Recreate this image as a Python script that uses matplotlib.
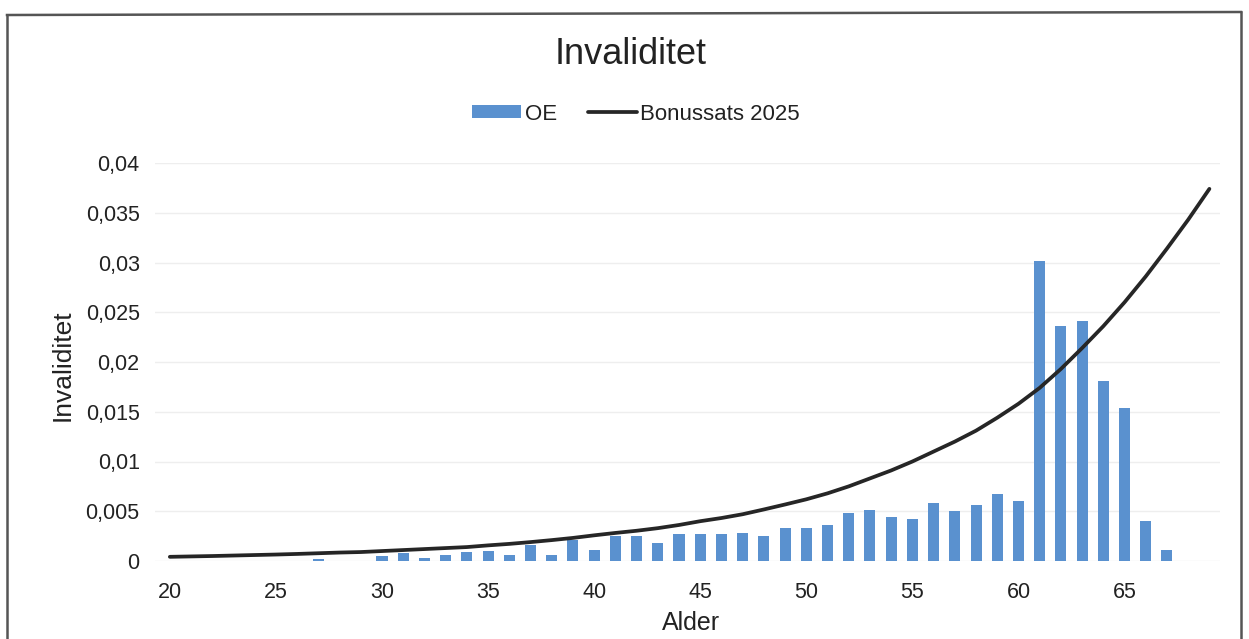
import matplotlib
matplotlib.use('Agg')
import matplotlib.pyplot as plt
from matplotlib.lines import Line2D

# ---- data ----
ages = list(range(20, 70))
bonus_values = [
    0.00042, 0.00046, 0.00050, 0.00055, 0.00060, 0.00065, 0.00071, 0.00078, 0.00085, 0.00090,
    0.00100, 0.00110, 0.00120, 0.00130, 0.00140, 0.00157, 0.00172, 0.00190, 0.00210, 0.00232,
    0.00258, 0.00282, 0.00304, 0.00330, 0.00362, 0.00400, 0.00432, 0.00470, 0.00518, 0.00568,
    0.00620, 0.00680, 0.00750, 0.00830, 0.00910, 0.01000, 0.01100, 0.01200, 0.01310, 0.01440,
    0.01580, 0.01740, 0.01930, 0.02140, 0.02360, 0.02600, 0.02860, 0.03140, 0.03430, 0.03740,
]

oe_ages = list(range(27, 68))
oe_values = [
    0.0002, 0.0, 0.0, 0.0005, 0.0008, 0.0003, 0.0006, 0.0009, 0.0010, 0.0006,
    0.0016, 0.0006, 0.0021, 0.0011, 0.0025, 0.0025, 0.0018, 0.0027, 0.0027, 0.0027,
    0.0028, 0.0025, 0.0033, 0.0033, 0.0036, 0.0048, 0.0051, 0.0044, 0.0042, 0.0058,
    0.0050, 0.0056, 0.0067, 0.0060, 0.0302, 0.0236, 0.0241, 0.0181, 0.0154, 0.0040,
    0.0011,
]

x_ticks = [20, 25, 30, 35, 40, 45, 50, 55, 60, 65]
y_ticks = [0, 0.005, 0.01, 0.015, 0.02, 0.025, 0.03, 0.035, 0.04]
y_tick_labels = ['0', '0,005', '0,01', '0,015', '0,02', '0,025', '0,03', '0,035', '0,04']

title_text = 'Invaliditet'
x_label = 'Alder'
y_label = 'Invaliditet'
bar_label = 'OE'
line_label = 'Bonussats 2025'

# ---- figure ----
plt.rcParams['font.family'] = ['Liberation Sans', 'DejaVu Sans']
W, H = 1249, 639
fig = plt.figure(figsize=(W / 100, H / 100), dpi=100)
fig.patch.set_facecolor('white')

ax = fig.add_axes([155 / W, 1 - 561 / H, (1220 - 155) / W, (561 - 163) / H])
ax.set_facecolor('white')

bars = ax.bar(oe_ages, oe_values, width=0.52, color='#5a91cf', label=bar_label, zorder=2)
line, = ax.plot(ages, bonus_values, color='#262626', lw=2.7, label=line_label, zorder=3,
                solid_capstyle='round')

ax.set_xlim(19.3, 69.5)
ax.set_ylim(0, 0.04)
ax.set_xticks(x_ticks)
ax.set_xticklabels([str(t) for t in x_ticks])
ax.set_yticks(y_ticks)
ax.set_yticklabels(y_tick_labels)
ax.tick_params(axis='both', length=0, labelsize=15.5, colors='#222222')
ax.tick_params(axis='x', pad=15)
ax.tick_params(axis='y', pad=11)
ax.grid(axis='y', color='#eeeeee', lw=1.0, zorder=0)
for s in ax.spines.values():
    s.set_visible(False)

fig.text(631 / W, 1 - 55 / H, title_text, fontsize=26, ha='center', va='center', color='#222222')
fig.text(63 / W, 1 - 365 / H, y_label, fontsize=19, rotation=90, ha='center', va='center',
         color='#222222')
fig.text(691 / W, 1 - 623 / H, x_label, fontsize=18, ha='center', va='center', color='#222222')

fig.legend([bars, line], [bar_label, line_label], loc='center',
           bbox_to_anchor=(636 / W, 1 - 114 / H), ncol=2, frameon=False,
           fontsize=16, handlelength=2.2, handleheight=0.55, handletextpad=0.15,
           columnspacing=1.4, labelcolor='#222222')

# frame around the chart
frame_kw = dict(color='#555555', lw=1.8, transform=fig.transFigure)
fig.add_artist(Line2D([7 / W, 1241 / W], [1 - 15 / H, 1 - 12 / H], **frame_kw))
fig.add_artist(Line2D([7 / W, 7 / W], [1 - 15 / H, 0], **frame_kw))
fig.add_artist(Line2D([1241 / W, 1241 / W], [1 - 12 / H, 0], **frame_kw))

fig.savefig('out.png', dpi=100, facecolor='white')
